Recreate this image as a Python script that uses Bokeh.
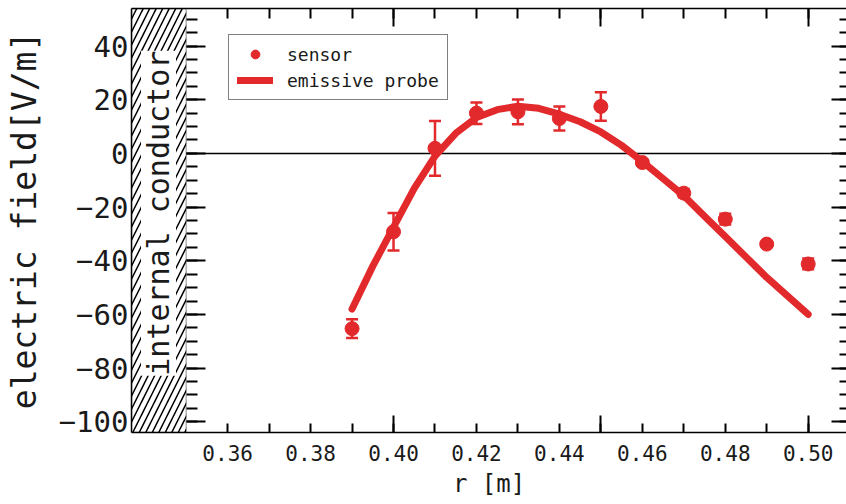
import math
from bokeh.plotting import figure
from bokeh.models import (ColumnDataSource, Range1d, LinearAxis, FixedTicker, Whisker,
                          TeeHead, Span, BoxAnnotation, Label, Legend, LegendItem)
from bokeh.embed import file_html
from bokeh.resources import INLINE

# ---- data ----
r_sensor = [0.39, 0.40, 0.41, 0.42, 0.43, 0.44, 0.45, 0.46, 0.47, 0.48, 0.49, 0.50]
e_sensor = [-65.3, -29.2, 1.9, 15.0, 15.5, 13.0, 17.5, -3.4, -14.8, -24.5, -33.8, -41.2]
e_error = [3.5, 7.0, 10.2, 4.0, 4.6, 4.5, 5.3, 1.0, 1.5, 2.0, 1.0, 2.0]

r_probe = [0.39, 0.395, 0.40, 0.405, 0.41, 0.415, 0.42, 0.425, 0.43, 0.435, 0.44, 0.445,
           0.45, 0.455, 0.46, 0.465, 0.47, 0.475, 0.48, 0.485, 0.49, 0.495, 0.50]
e_probe = [-58.0, -42.0, -27.5, -13.0, -1.0, 7.5, 13.4, 16.3, 17.6, 16.8, 14.6, 11.8,
           8.0, 3.0, -3.0, -9.4, -15.8, -23.4, -31.0, -38.6, -46.2, -53.1, -60.0]

y_ticks = [-100, -80, -60, -40, -20, 0, 20, 40]
y_tick_labels = ["\u2212100", "\u221280", "\u221260", "\u221240", "\u221220", "0", "20", "40"]
y_minor_ticks = [-100, -95, -90, -85, -80, -75, -70, -65, -60, -55, -50, -45, -40, -35, -30,
                 -25, -20, -15, -10, -5, 0, 5, 10, 15, 20, 25, 30, 35, 40, 45, 50]

x_label_ticks = [0.36, 0.38, 0.40, 0.42, 0.44, 0.46, 0.48, 0.50]
x_tick_labels = ["0.36", "0.38", "0.40", "0.42", "0.44", "0.46", "0.48", "0.50"]
x_major_marks = [0.40, 0.45, 0.50]
x_minor_marks = [0.36, 0.37, 0.38, 0.39, 0.40, 0.41, 0.42, 0.43, 0.44, 0.45, 0.46,
                 0.47, 0.48, 0.49, 0.50]

conductor_edge = 0.35

RED = "#e2292b"
FONT = "DejaVu Sans Mono"
INK = "#1a1a1a"

p = figure(width=846, height=504, output_backend="svg", toolbar_location=None,
           x_range=Range1d(0.33681, 0.50924), y_range=Range1d(-104, 54),
           x_axis_location=None, y_axis_location=None,
           min_border_left=131, min_border_right=0, min_border_top=8,
           min_border_bottom=72)
p.grid.visible = False
p.outline_line_color = None
p.background_fill_color = "white"
p.border_fill_color = "white"

# zero line
zero = Span(location=0, dimension="width", line_color="black", line_width=1.5, level="underlay")
p.add_layout(zero)

# hatched internal conductor
box = BoxAnnotation(right=conductor_edge, fill_color="white", fill_alpha=1.0,
                    hatch_pattern="/", hatch_color="black", hatch_scale=13, hatch_weight=1.5,
                    line_color="black", line_width=1.5, level="underlay")
p.add_layout(box)

# ---- axes ----
def blank_axis(**kw):
    ax = LinearAxis(**kw)
    ax.major_label_text_font_size = "1px"
    ax.major_label_text_color = None
    ax.major_label_standoff = 0
    return ax

# left: tick marks on the conductor edge
left_ticks = blank_axis(ticker=FixedTicker(ticks=y_ticks, minor_ticks=y_minor_ticks),
                        fixed_location=conductor_edge)
left_ticks.major_tick_in = 19
left_ticks.major_tick_out = 0
left_ticks.minor_tick_in = 11
left_ticks.minor_tick_out = 0
left_ticks.major_tick_line_width = 2
left_ticks.minor_tick_line_width = 2
left_ticks.axis_line_color = None
p.add_layout(left_ticks, "left")

# left: labels at frame edge
left_lab = LinearAxis(ticker=FixedTicker(ticks=y_ticks),
                      major_label_overrides=dict(zip(y_ticks, y_tick_labels)))
left_lab.major_tick_in = 0
left_lab.major_tick_out = 0
left_lab.minor_tick_in = 0
left_lab.minor_tick_out = 0
left_lab.axis_line_color = "black"
left_lab.axis_line_width = 1.5
left_lab.major_label_standoff = 3
left_lab.major_label_text_font = FONT
left_lab.major_label_text_font_size = "29px"
left_lab.major_label_text_color = INK
left_lab.axis_label = "electric field[V/m]"
left_lab.axis_label_text_font = FONT
left_lab.axis_label_text_font_size = "33px"
left_lab.axis_label_text_font_style = "normal"
left_lab.axis_label_text_color = INK
left_lab.axis_label_standoff = 12
p.add_layout(left_lab, "left")

# right ticks
right_ax = blank_axis(ticker=FixedTicker(ticks=y_ticks, minor_ticks=y_minor_ticks))
right_ax.major_tick_in = 15
right_ax.major_tick_out = 0
right_ax.minor_tick_in = 7
right_ax.minor_tick_out = 0
right_ax.major_tick_line_width = 2
right_ax.minor_tick_line_width = 2
right_ax.axis_line_color = None
p.add_layout(right_ax, "right")

# bottom tick marks
bot_ticks = blank_axis(ticker=FixedTicker(ticks=x_major_marks, minor_ticks=x_minor_marks))
bot_ticks.major_tick_in = 17
bot_ticks.major_tick_out = 0
bot_ticks.minor_tick_in = 9
bot_ticks.minor_tick_out = 0
bot_ticks.major_tick_line_width = 2
bot_ticks.minor_tick_line_width = 2
bot_ticks.axis_line_color = "black"
bot_ticks.axis_line_width = 1.5
p.add_layout(bot_ticks, "below")

# bottom labels
bot_lab = LinearAxis(ticker=FixedTicker(ticks=x_label_ticks),
                     major_label_overrides=dict(zip(x_label_ticks, x_tick_labels)))
bot_lab.major_tick_in = 0
bot_lab.major_tick_out = 0
bot_lab.minor_tick_in = 0
bot_lab.minor_tick_out = 0
bot_lab.axis_line_color = None
bot_lab.major_label_standoff = 12
bot_lab.major_label_text_font = FONT
bot_lab.major_label_text_font_size = "21px"
bot_lab.major_label_text_color = INK
bot_lab.axis_label = "r [m]"
bot_lab.axis_label_text_font = FONT
bot_lab.axis_label_text_font_size = "24px"
bot_lab.axis_label_text_font_style = "normal"
bot_lab.axis_label_text_color = INK
bot_lab.axis_label_standoff = 6
p.add_layout(bot_lab, "below")

# top ticks
top_ax = blank_axis(ticker=FixedTicker(ticks=x_major_marks, minor_ticks=x_minor_marks))
top_ax.major_tick_in = 18
top_ax.major_tick_out = 0
top_ax.minor_tick_in = 10
top_ax.minor_tick_out = 0
top_ax.major_tick_line_width = 2
top_ax.minor_tick_line_width = 2
top_ax.axis_line_color = "black"
top_ax.axis_line_width = 1.5
p.add_layout(top_ax, "above")

# ---- data ----
src = ColumnDataSource(data=dict(
    r=r_sensor, e=e_sensor,
    upper=[v + d for v, d in zip(e_sensor, e_error)],
    lower=[v - d for v, d in zip(e_sensor, e_error)],
))

probe = p.line(r_probe, e_probe, line_color=RED, line_width=7,
               line_cap="round", line_join="round")

wh = Whisker(base="r", upper="upper", lower="lower", source=src,
             line_color=RED, line_width=2.5, level="glyph",
             upper_head=TeeHead(size=12, line_color=RED, line_width=2.5),
             lower_head=TeeHead(size=12, line_color=RED, line_width=2.5))
p.add_layout(wh)

sensor = p.scatter("r", "e", source=src, size=14, fill_color=RED, line_color=RED)

# conductor label
lab = Label(x=0.34332, y=-22.3, text="internal conductor", angle=math.pi / 2,
            text_align="center", text_baseline="middle", text_font=FONT,
            text_font_size="30px", text_color=INK, background_fill_color="white")
p.add_layout(lab)

legend = Legend(items=[LegendItem(label="sensor", renderers=[sensor]),
                       LegendItem(label="emissive probe", renderers=[probe])],
                location=(97, 332), orientation="vertical")
legend.border_line_color = "black"
legend.border_line_width = 1.5
legend.background_fill_color = "white"
legend.background_fill_alpha = 1.0
legend.label_text_font = FONT
legend.label_text_font_size = "18px"
legend.label_text_color = INK
legend.glyph_width = 36
legend.glyph_height = 22
legend.label_height = 22
legend.label_standoff = 14
legend.spacing = 4
legend.padding = 8
legend.margin = 0
p.add_layout(legend)

open("out.html", "w").write(file_html(p, INLINE))
